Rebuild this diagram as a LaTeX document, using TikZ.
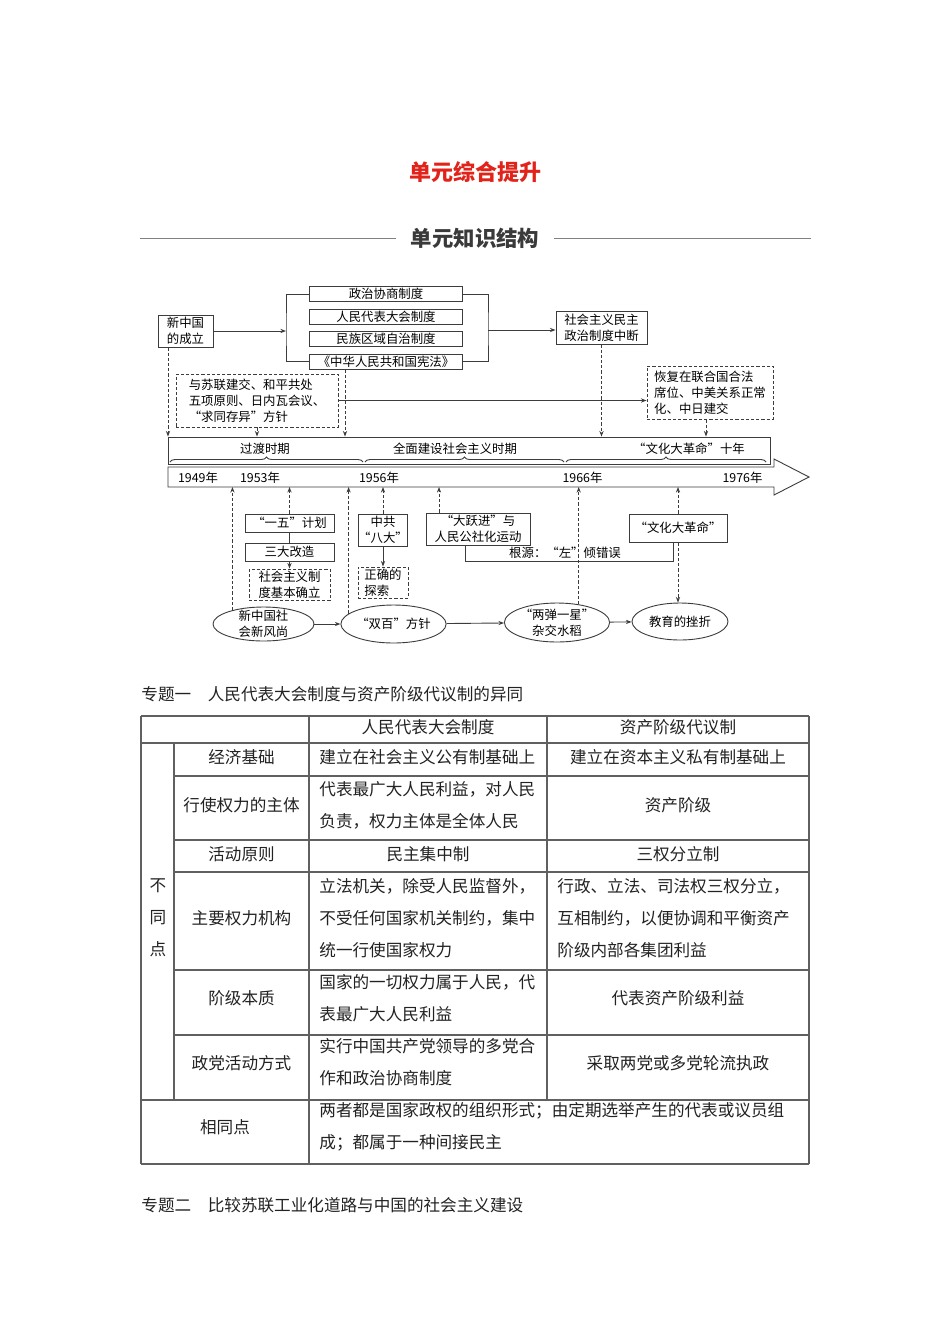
\documentclass[tikz,border=0pt]{standalone}
\usepackage{fontspec}
\setmainfont{Noto Sans CJK SC}
\usepackage{xcolor}
\usetikzlibrary{arrows.meta, positioning, shapes.geometric, decorations.pathreplacing}
\definecolor{titlered}{HTML}{E2231A}
\definecolor{headgray}{HTML}{3A3A3A}
\definecolor{linegray}{HTML}{3C3C3C}
\definecolor{tablegray}{HTML}{606060}
\definecolor{textgray}{HTML}{222222}

\begin{document}
\begin{tikzpicture}[x=0.5pt, y=-0.5pt, >={Stealth[length=2.8pt,width=2.1pt]},
    every node/.style={inner sep=0pt},
    dfont/.style={font=\fontsize{6.2}{8}\selectfont},
    solidbox/.style={draw=linegray, line width=0.45pt, rectangle, dfont, align=center},
    dashbox/.style={draw=linegray, line width=0.45pt, dashed, dash pattern=on 1.6pt off 1pt, rectangle, dfont, align=left},
    oval/.style={draw=linegray, line width=0.45pt, ellipse, dfont, align=center},
    link/.style={draw=linegray, line width=0.45pt},
    dlink/.style={link, dash pattern=on 1.6pt off 1pt},
    cell/.style={font=\fontsize{8.3}{16}\selectfont, text=textgray},
    tabline/.style={draw=tablegray, line width=0.6pt},
    rule/.style={draw=gray, line width=0.5pt}]

    \path[fill=white] (0,0) rectangle (950,1344);

    % headings
    \node [font=\fontsize{11}{13}\selectfont\bfseries, text=titlered] (title) at (475,172) {单元综合提升};
    \node [font=\fontsize{10.7}{13}\selectfont\bfseries, text=headgray] (section) at (475,238) {单元知识结构};
    \coordinate (ruleL) at (140,238);
    \coordinate (ruleR) at (811,238);
    \draw [rule] (ruleL) -- ([xshift=-7pt]section.west);
    \draw [rule] ([xshift=7pt]section.east) -- (ruleR);

    % upper part of the chart
    \node [solidbox, minimum width=27.5pt, minimum height=16pt] (newchina) at (185.5,331) {新中国\\的成立};
    \node [solidbox, minimum width=76.5pt, minimum height=7.5pt] (zzxs) at (386,294) {政治协商制度};
    \node [solidbox, minimum width=76.5pt, minimum height=7.5pt] (rmdb) at (386,317) {人民代表大会制度};
    \node [solidbox, minimum width=76.5pt, minimum height=7.5pt] (mzqy) at (386,339) {民族区域自治制度};
    \node [solidbox, minimum width=76.5pt, minimum height=7.5pt] (xianfa) at (386,361.5) {《中华人民共和国宪法》};
    \node [solidbox, minimum width=45.5pt, minimum height=16.5pt] (zhongduan) at (601.5,327.5) {社会主义民主\\政治制度中断};
    \node [dashbox, minimum width=81pt, minimum height=26.5pt] (waijiao) at (257,400.5) {与苏联建交、和平共处\\五项原则、日内瓦会议、\\“求同存异”方针};
    \node [dashbox, minimum width=63pt, minimum height=26.5pt] (huifu) at (710,392.5) {恢复在联合国合法\\席位、中美关系正常\\化、中日建交};

    \coordinate (lbr) at (286,331);
    \coordinate (rbr) at (488,330);
    \draw [link] (zzxs.west) -| (lbr) |- (xianfa.west);
    \draw [link] (zzxs.east) -| (rbr) |- (xianfa.east);
    \draw [link, ->] (newchina.east) -- (lbr);
    \draw [link, ->] (rbr) -- (rbr -| zhongduan.west);
    \draw [link, ->] (waijiao.east) -- (waijiao.east -| huifu.west);

    % time line
    \node [draw=linegray, line width=0.45pt, minimum width=301pt, minimum height=13.5pt] (periods) at (469,450.5) {};
    \node [dfont] (guodu) at (265,449) {过渡时期};
    \node [dfont] (quanmian) at (455,449) {全面建设社会主义时期};
    \node [dfont] (wenge10) at (689,449) {“文化大革命”十年};
    \draw [link, decorate, decoration={brace, amplitude=2.5pt}] (170,462) -- (363,462);
    \draw [link, decorate, decoration={brace, amplitude=2.5pt}] (365,462) -- (564,462);
    \draw [link, decorate, decoration={brace, amplitude=2.5pt}] (566,462) -- (766,462);

    \draw [link] (168,467) -- (774,467) -- (774,459) -- (809,477) -- (774,495) -- (774,487) -- (168,487) -- cycle;
    \coordinate (tlbot) at (168,487);
    \node [dfont] (y1949) at (198,477.5) {1949年};
    \node [dfont] (y1953) at (260,477.5) {1953年};
    \node [dfont] (y1956) at (379,477.5) {1956年};
    \node [dfont] (y1966) at (582.5,477.5) {1966年};
    \node [dfont] (y1976) at (742.5,477.5) {1976年};

    \draw [dlink, ->] ([xshift=-8.75pt]newchina.south) -- ([xshift=-8.75pt]newchina.south |- periods.north);
    \draw [dlink, ->] (waijiao.south) -- (waijiao.south |- periods.north);
    \draw [dlink, ->] ([xshift=-20.5pt]xianfa.south) -- ([xshift=-20.5pt]xianfa.south |- periods.north);
    \draw [dlink, ->] (zhongduan.south) -- (zhongduan.south |- periods.north);
    \draw [dlink, ->] ([xshift=-2pt]huifu.south) -- ([xshift=-2pt]huifu.south |- periods.north);

    % lower part of the chart
    \node [solidbox, minimum width=44.5pt, minimum height=9pt] (yiwu) at (289.5,523) {“一五”计划};
    \node [solidbox, minimum width=44.5pt, minimum height=9pt] (sanda) at (289.5,552) {三大改造};
    \node [dashbox, minimum width=40.5pt, minimum height=15.5pt] (queli) at (289.5,584.5) {社会主义制\\度基本确立};
    \node [solidbox, minimum width=24pt, minimum height=16pt] (bada) at (383,530) {中共\\“八大”};
    \node [dashbox, minimum width=25pt, minimum height=15.5pt] (tansuo) at (383,582.5) {正确的\\探索};
    \node [solidbox, minimum width=52pt, minimum height=16pt] (dayuejin) at (478,529) {“大跃进”与\\人民公社化运动};
    \node [solidbox, minimum width=49pt, minimum height=14pt] (wenge) at (678,528) {“文化大革命”};
    \node [dfont] (genyuan) at (565,553) {根源：“左”倾错误};

    \node [oval, minimum width=50.5pt, minimum height=17pt, inner ysep=-3pt] (fengshang) at (263.5,624) {新中国社\\会新风尚};
    \node [oval, minimum width=46.5pt, minimum height=19pt] (shuangbai) at (393.5,624) {“双百”方针};
    \node [oval, minimum width=47pt, minimum height=19.5pt, inner ysep=-3pt] (liangdan) at (557,622.5) {“两弹一星”\\杂交水稻};
    \node [oval, minimum width=48pt, minimum height=18.5pt] (jiaoyu) at (680,621.5) {教育的挫折};

    \draw [link] (yiwu.south) -- (sanda.north);
    \draw [link, ->] (sanda.south) -- (queli.north);
    \draw [link, ->] (bada.south) -- (tansuo.north);
    \draw [link] ([xshift=-6.5pt]dayuejin.south) -- ++(0,16) -| ([xshift=-2.5pt]wenge.south);
    \draw [dlink, ->] (wenge.south) -- (wenge.south |- jiaoyu.north);

    \draw [dlink, ->] (fengshang.156) -- (fengshang.156 |- tlbot);
    \draw [dlink, ->] (yiwu.north) -- (yiwu.north |- tlbot);
    \draw [dlink, ->] (shuangbai.167) -- (shuangbai.167 |- tlbot);
    \draw [dlink, ->] (bada.north) -- (bada.north |- tlbot);
    \draw [dlink, ->] ([xshift=-19.5pt]dayuejin.north) -- ([xshift=-19.5pt]dayuejin.north |- tlbot);
    \draw [dlink, ->] (liangdan.40) -- (liangdan.40 |- tlbot);
    \draw [dlink, ->] (wenge.north) -- (wenge.north |- tlbot);

    \draw [link, ->] (fengshang) -- (shuangbai);
    \draw [link, ->] (shuangbai) -- (liangdan);
    \draw [link, ->] (liangdan) -- (jiaoyu);

    % table
    \node [cell, anchor=west] (topic1) at (141,694) {专题一　人民代表大会制度与资产阶级代议制的异同};
    \foreach \y in {716,743,1100,1164}
        \draw [tabline] (141,\y) -- (809,\y);
    \foreach \y in {776,840,872,970,1035}
        \draw [tabline] (174,\y) -- (809,\y);
    \foreach \x/\ya/\yb in {141/716/1164, 174/743/1100, 309/716/1164, 547/716/1100, 809/716/1164}
        \draw [tabline] (\x,\ya) -- (\x,\yb);

    \node [cell] (hrd) at (428,727) {人民代表大会制度};
    \node [cell] (hdy) at (678,727) {资产阶级代议制};
    \node [cell, align=center] (butong) at (158,918) {不\\同\\点};
    \node [cell] (xiangtong) at (225,1127) {相同点};
    \foreach \y/\t [count=\i] in {757/经济基础, 805/行使权力的主体, 854/活动原则, 918/主要权力机构, 998/阶级本质, 1063/政党活动方式}
        \node [cell] (item\i) at (241.5,\y) {\t};

    \node [cell, anchor=west] (rd1) at (319,757) {建立在社会主义公有制基础上};
    \node [cell, anchor=west, align=left] (rd2) at (319,805.5) {代表最广大人民利益，对人民\\负责，权力主体是全体人民};
    \node [cell] (rd3) at (428,854) {民主集中制};
    \node [cell, anchor=west, align=left] (rd4) at (319,918) {立法机关，除受人民监督外，\\不受任何国家机关制约，集中\\统一行使国家权力};
    \node [cell, anchor=west, align=left] (rd5) at (319,998.5) {国家的一切权力属于人民，代\\表最广大人民利益};
    \node [cell, anchor=west, align=left] (rd6) at (319,1062.5) {实行中国共产党领导的多党合\\作和政治协商制度};
    \node [cell, anchor=west, align=left] (same) at (319,1127) {两者都是国家政权的组织形式；由定期选举产生的代表或议员组\\成；都属于一种间接民主};

    \node [cell] (dy1) at (678,757) {建立在资本主义私有制基础上};
    \node [cell] (dy2) at (678,805) {资产阶级};
    \node [cell] (dy3) at (678,854) {三权分立制};
    \node [cell, anchor=west, align=left] (dy4) at (557,918) {行政、立法、司法权三权分立，\\互相制约，以便协调和平衡资产\\阶级内部各集团利益};
    \node [cell] (dy5) at (678,998) {代表资产阶级利益};
    \node [cell] (dy6) at (678,1063) {采取两党或多党轮流执政};

    \node [cell, anchor=west] (topic2) at (141,1205) {专题二　比较苏联工业化道路与中国的社会主义建设};
\end{tikzpicture}
\end{document}
